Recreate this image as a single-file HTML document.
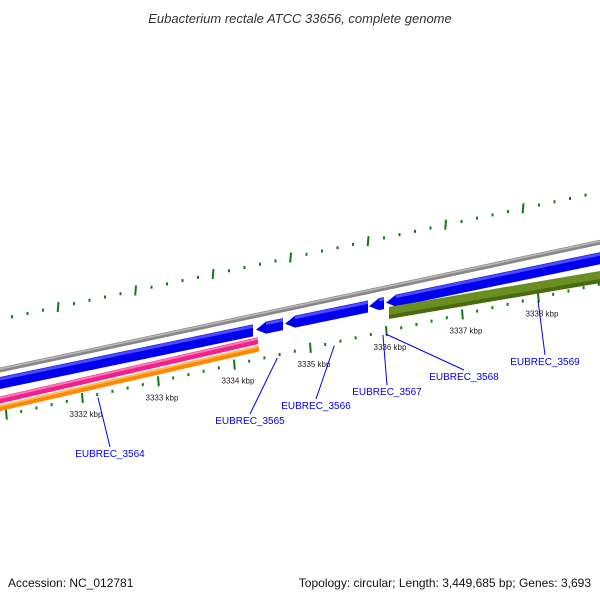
<!DOCTYPE html>
<html><head><meta charset="utf-8"><style>
body{margin:0;background:#fff}
svg{display:block;font-family:"Liberation Sans",sans-serif}
</style></head><body>
<svg id="c" width="600" height="600">
<text x="300" y="23" text-anchor="middle" font-size="13" font-style="italic" fill="#333">Eubacterium rectale ATCC 33656, complete genome</text>
<text x="8" y="587" font-size="12" fill="#111">Accession: NC_012781</text>
<text x="591" y="587" font-size="12" fill="#111" text-anchor="end">Topology: circular; Length: 3,449,685 bp; Genes: 3,693</text>
</svg>
<script>
const kbpTicks=[3332,3333,3334,3335,3336,3337,3338];
const geneNames=["EUBREC_3564","EUBREC_3565","EUBREC_3566","EUBREC_3567","EUBREC_3568","EUBREC_3569"];
const geneAnchorKbp=[3332.21,3334.57,3335.32,3335.96,3336.0,3338.0];
const geneLabelPos=[[110,457],[250,424],[316,409],[387,395],[464,380],[545,365]];
const blueGenes=[[-50,253,0],[256,283,-1],[285,368,-1],[369,384,-1],[386,650,-1]];
const svg=document.getElementById('c');
const NS='http://www.w3.org/2000/svg';
function kx(k){return 82+(k-3332)*76;}
function innerY(x){return 398-(x-82)*0.22;}
function outerY(x){return 307-(x-58)*0.212;}
function mk(t,a){const e=document.createElementNS(NS,t);for(const k in a)e.setAttribute(k,a[k]);svg.appendChild(e);return e;}
function band(x0,x1,f,h,fill,name,dir){
  let pts;const a=10;
  if(dir<0){pts=[[x0,f(x0)],[x0+a,f(x0+a)-h/2],[x1,f(x1)-h/2],[x1,f(x1)+h/2],[x0+a,f(x0+a)+h/2]];}
  else pts=[[x0,f(x0)-h/2],[x1,f(x1)-h/2],[x1,f(x1)+h/2],[x0,f(x0)+h/2]];
  const p=mk('polygon',{points:pts.map(p=>p.join(',')).join(' '),fill:fill});
  
  return p;
}
band(-10,610,x=>370-x*0.213,5,'#888','backbone-track',0);
band(-10,610,x=>369-x*0.213,1.5,'#bbb','backbone-highlight',0);
blueGenes.forEach((b,i)=>{band(b[0],b[1],x=>383-x*0.208,12,'#0000ee','gene-forward-'+i,b[2]);band(b[0]+(b[2]<0?10:0),b[1],x=>379-x*0.208,3,'#4a4aff','gene-highlight-'+i,0);});
band(-10,258,x=>400-x*0.23,7,'#ee2288','rna-track',0);
band(-10,258,x=>398-x*0.23,2,'#ff77bb','rna-highlight',0);
band(-10,259,x=>408-x*0.23,6,'#ff8800','orange-track',0);
band(-10,259,x=>406-x*0.23,2,'#ffbb55','orange-highlight',0);
band(389,610,x=>313-(x-388)*0.17,12,'#6b8e23','olive-track',0);
band(389,610,x=>317-(x-388)*0.17,4,'#4a6a10','olive-shadow',0);
for(let i=-6;i<=38;i++){
  const k=3332+i*0.2;const x=kx(k);const y=innerY(x);const major=i%5===0;
  const l=mk('line',{x1:x,y1:y-(major?5:1.5),x2:x+(major?0.8:0),y2:y+(major?5:1.5),stroke:'#127a12','stroke-width':2});
  
}
kbpTicks.forEach(k=>{const x=kx(k);const t=mk('text',{x:x+4,y:innerY(x)+19,'font-size':8,fill:'#222','text-anchor':'middle'});t.textContent=k+' kbp';
});
for(let x=-19;x<600;x+=15.5){
  const y=outerY(x);const major=Math.round((x-58)/15.5)%5===0;
  const l=mk('line',{x1:x,y1:y-(major?5:1.5),x2:x-(major?0.8:0),y2:y+(major?5:1.5),stroke:'#127a12','stroke-width':2});
  
}
geneNames.forEach((n,i)=>{
  const x=kx(geneAnchorKbp[i]);const y=innerY(x)+3;const p=geneLabelPos[i];
  const l=mk('line',{x1:x,y1:y,x2:p[0],y2:p[1]-10,stroke:'#0000ee','stroke-width':1});
  
  const t=mk('text',{x:p[0],y:p[1],'font-size':10,fill:'#0000ee','text-anchor':'middle'});t.textContent=n;
  
});
</script>
</body></html>
